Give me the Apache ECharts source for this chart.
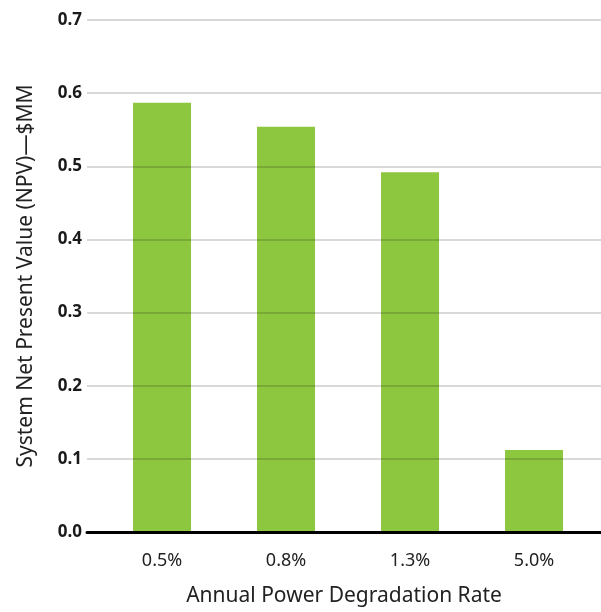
<!DOCTYPE html>
<html>
<head>
<meta charset="utf-8">
<script src="https://cdn.jsdelivr.net/npm/echarts@6/dist/echarts.min.js"></script>
<style>
  html, body { margin: 0; padding: 0; background: #fff; }
  #chart { width: 601px; height: 612px; }
</style>
</head>
<body>
<div id="chart"></div>
<script>
// Degradation-rate scenarios and resulting system NPV ($MM)
const categories = ['0.5%', '0.8%', '1.3%', '5.0%'];
const npvValues = [0.587, 0.554, 0.492, 0.112];
const yTicks = [0, 0.1, 0.2, 0.3, 0.4, 0.5, 0.6, 0.7];

const chart = echarts.init(document.getElementById('chart'), null, { renderer: 'canvas' });

const barData = npvValues.map((v, i) => [i, v]);

chart.setOption({
  animation: false,
  backgroundColor: '#ffffff',
  grid: { left: 87, right: 0, top: 20, bottom: 79, containLabel: false },
  xAxis: {
    type: 'value',
    min: -0.605,
    max: 3.54,
    z: 4,
    name: 'Annual Power Degradation Rate',
    nameLocation: 'middle',
    nameGap: 54,
    nameTextStyle: { fontFamily: 'Noto Sans', fontSize: 21, color: '#222' },
    axisLine: { show: true, onZero: false, lineStyle: { color: '#000', width: 3 } },
    axisTick: { show: false },
    splitLine: { show: false },
    axisLabel: {
      customValues: categories.map((c, i) => i),
      formatter: v => categories[Math.round(v)] || '',
      margin: 20,
      fontFamily: 'Noto Sans',
      fontSize: 18,
      color: '#222'
    }
  },
  yAxis: {
    type: 'value',
    min: yTicks[0],
    max: yTicks[yTicks.length - 1],
    interval: 0.1,
    z: 3,
    name: 'System Net Present Value (NPV)\u2014$MM',
    nameLocation: 'middle',
    nameGap: 50,
    nameTextStyle: { fontFamily: 'Noto Sans', fontSize: 21, color: '#222' },
    axisLine: { show: false },
    axisTick: { show: false },
    splitLine: { show: true, lineStyle: { color: 'rgba(0,0,0,0.15)', width: 2 } },
    axisLabel: {
      formatter: v => v.toFixed(1),
      margin: 5,
      fontFamily: 'Open Sans',
      fontWeight: 'bold',
      fontSize: 17,
      color: '#1a1a1a'
    }
  },
  series: [{
    type: 'bar',
    data: barData,
    barWidth: 58,
    itemStyle: { color: '#8dc63f' },
    z: 2
  }]
});
</script>
</body>
</html>
